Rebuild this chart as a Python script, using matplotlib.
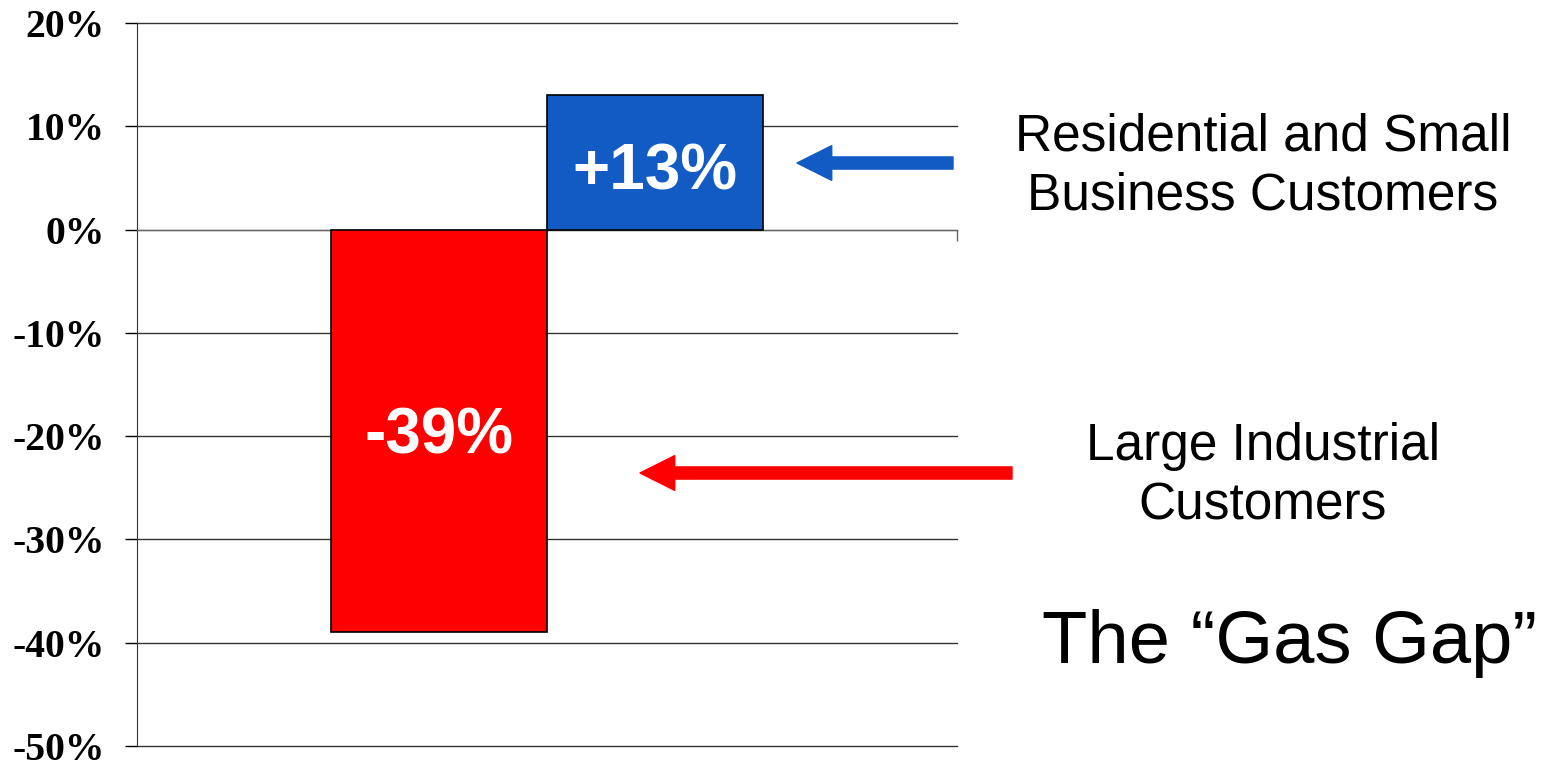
import matplotlib.pyplot as plt
import numpy as np
from matplotlib.ticker import FuncFormatter

# data
groups = ['Large Industrial\nCustomers', 'Residential and Small\nBusiness Customers']
change = [-39, 13]
bar_labels = ['-39%', '+13%']
bar_colors = ['#ff0000', '#125bc4']
yticks = np.arange(-50, 21, 10)

fig = plt.figure(figsize=(15.56, 7.61), dpi=100)
ax = fig.add_axes([0.088, 0.0197, 0.527, 0.9501])

xpos = np.arange(len(change))
ax.bar(xpos, change, width=1.0, color=bar_colors, edgecolor='black', linewidth=1.2, zorder=3)
label_y = [-20, 5.5]  # where the numbers sit inside the bars
for i in range(len(change)):
    ax.text(xpos[i], label_y[i], bar_labels[i],
            ha='center', va='center', color='white', fontsize=46, fontweight='bold',
            family='Liberation Sans', zorder=4)

ax.set_xlim(-1.398, 2.398)
ax.set_ylim(-50, 20)
ax.set_yticks(yticks)
ax.yaxis.set_major_formatter(FuncFormatter(lambda v, p: '%d%%' % v))
ax.tick_params(axis='y', length=9, width=1, pad=14, labelsize=28.5)
for lab in ax.get_yticklabels():
    lab.set_family('Liberation Serif')
    lab.set_fontweight('bold')
ax.grid(axis='y', color='#333333', linewidth=1.0, zorder=0)
for gl in ax.get_ygridlines():
    gl.set_clip_on(False)

# category axis sits at zero, with one end tick on the right
ax.spines['top'].set_visible(False)
ax.spines['right'].set_visible(False)
ax.spines['bottom'].set_position(('data', 0))
ax.spines['bottom'].set_color('#666666')
ax.spines['left'].set_color('#333333')
ax.set_xticks([2.398])
ax.set_xticklabels([''])
ax.tick_params(axis='x', length=8, width=1, color='#666666', direction='out')

# labels on the right
fig.text(0.8117, 0.781, groups[1], ha='center', va='center', fontsize=37,
         family='Liberation Sans', linespacing=1.27)
fig.text(0.8117, 0.374, groups[0], ha='center', va='center', fontsize=37,
         family='Liberation Sans', linespacing=1.27)
fig.text(0.829, 0.155, 'The \u201cGas Gap\u201d', ha='center', va='center', fontsize=53.5,
         family='Liberation Sans')

# arrows
ax.annotate('', xy=(797 / 1556, 1 - 163 / 761), xytext=(953 / 1556, 1 - 163 / 761),
            xycoords='figure fraction', textcoords='figure fraction',
            arrowprops=dict(arrowstyle='simple,head_length=1.0,head_width=1.0,tail_width=0.35',
                            mutation_scale=25, color='#125bc4', shrinkA=0, shrinkB=0))
ax.annotate('', xy=(640 / 1556, 1 - 473 / 761), xytext=(1012 / 1556, 1 - 473 / 761),
            xycoords='figure fraction', textcoords='figure fraction',
            arrowprops=dict(arrowstyle='simple,head_length=1.0,head_width=1.0,tail_width=0.35',
                            mutation_scale=25, color='#ff0000', shrinkA=0, shrinkB=0))

fig.savefig('out.png', dpi=100)
